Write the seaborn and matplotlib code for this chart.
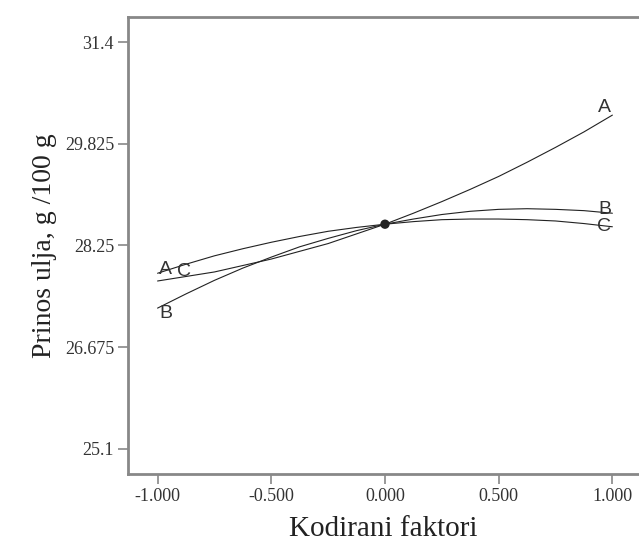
import matplotlib
matplotlib.use("Agg")
import matplotlib.pyplot as plt
import seaborn as sns
import pandas as pd

# Coded factor deviations (x) and predicted response for each factor
x_vals = [-1.0, -0.875, -0.75, -0.625, -0.5, -0.375, -0.25, -0.125, 0.0,
          0.125, 0.25, 0.375, 0.5, 0.625, 0.75, 0.875, 1.0]
factor_A = [27.70, 27.77, 27.84, 27.94, 28.04, 28.16, 28.28, 28.43, 28.58,
            28.75, 28.93, 29.12, 29.32, 29.54, 29.77, 30.01, 30.27]
factor_B = [27.28, 27.50, 27.71, 27.90, 28.07, 28.23, 28.36, 28.48, 28.58,
            28.66, 28.73, 28.78, 28.81, 28.82, 28.81, 28.79, 28.75]
factor_C = [27.82, 27.96, 28.09, 28.20, 28.30, 28.39, 28.47, 28.53, 28.58,
            28.62, 28.65, 28.66, 28.66, 28.65, 28.63, 28.59, 28.54]
center_x = [0.0]
center_y = [28.58]

x_ticks = [-1.0, -0.5, 0.0, 0.5, 1.0]
x_ticklabels = ["-1.000", "-0.500", "0.000", "0.500", "1.000"]
y_ticks = [25.1, 26.675, 28.25, 29.825, 31.4]
y_ticklabels = ["25.1", "26.675", "28.25", "29.825", "31.4"]

df = pd.DataFrame({
    "x": x_vals * 3,
    "y": factor_A + factor_B + factor_C,
    "factor": ["A"] * len(x_vals) + ["B"] * len(x_vals) + ["C"] * len(x_vals),
})

sns.set_style("white")
fig = plt.figure(figsize=(6.39, 5.48), dpi=100)
ax = fig.add_axes([128 / 639, (548 - 474) / 548, 1 - 128 / 639, (474 - 17) / 548])

sns.lineplot(data=df, x="x", y="y", units="factor", estimator=None,
             color="#222222", linewidth=0.8, ax=ax, legend=False)
sns.scatterplot(x=center_x, y=center_y, color="#222222", s=45, ax=ax,
                zorder=5, edgecolor="none")

ax.set_xlim(-1.13, 1.117)
ax.set_ylim(24.71, 31.79)
ax.set_xticks(x_ticks)
ax.set_xticklabels(x_ticklabels)
ax.set_yticks(y_ticks)
ax.set_yticklabels(y_ticklabels)

serif = "Liberation Serif"
for lab in ax.get_xticklabels() + ax.get_yticklabels():
    lab.set_fontfamily(serif)
    lab.set_fontsize(13)
    lab.set_color("#333333")

ax.set_xlabel("Kodirani faktori", fontfamily=serif, fontsize=21, color="#222222", labelpad=8)
ax.set_ylabel("Prinos ulja, g /100 g", fontfamily=serif, fontsize=20, color="#222222", labelpad=6)

ax.tick_params(axis="both", direction="out", length=7, width=1.2, color="#888888",
               bottom=True, left=True, pad=3)
for side in ["left", "bottom", "top"]:
    ax.spines[side].set_color("#888888")
    ax.spines[side].set_linewidth(2)
ax.spines["right"].set_visible(False)

# factor labels at curve ends
lab_kw = dict(fontsize=14, color="#333333", fontfamily="Liberation Sans", va="center", ha="center")
ax.text(-0.965, factor_A[0] + 0.18, "A", **lab_kw)
ax.text(-0.885, factor_C[0] + 0.03, "C", **lab_kw)
ax.text(-0.965, factor_B[0] - 0.08, "B", **lab_kw)
ax.text(0.965, factor_A[-1] + 0.12, "A", **lab_kw)
ax.text(0.965, factor_B[-1] + 0.06, "B", **lab_kw)
ax.text(0.965, factor_C[-1] - 0.0, "C", **lab_kw)

fig.savefig("out.png", dpi=100)
